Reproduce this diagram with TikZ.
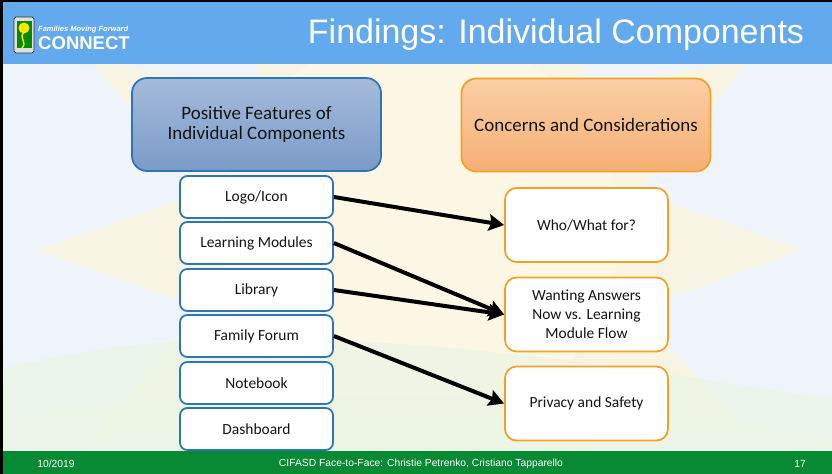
\documentclass[tikz,border=0pt]{standalone}
\usepackage{fontspec}
\setmainfont{Carlito}
\newfontfamily\headfont{Liberation Sans}
\usetikzlibrary{arrows.meta, positioning, shapes.geometric}

\definecolor{headblue}{HTML}{62A9EE}
\definecolor{footgreen}{HTML}{088A35}
\definecolor{boxblue}{HTML}{2E75B6}
\definecolor{boxorange}{HTML}{F4A026}
\definecolor{feattop}{HTML}{A5BBDB}
\definecolor{featbot}{HTML}{7A9BC8}
\definecolor{contop}{HTML}{FACEA6}
\definecolor{conbot}{HTML}{F6B073}
\definecolor{skyblue}{HTML}{EEF4FA}
\definecolor{sunpale}{HTML}{FBF4DE}
\definecolor{glow}{HTML}{FDF8E6}
\definecolor{hillgreen}{HTML}{EBF4E4}
\definecolor{textdark}{HTML}{141414}

\begin{document}
\begin{tikzpicture}[x=0.03cm,y=-0.03cm,
    every node/.style={text=textdark},
    header/.style={draw,line width=1.5pt,rounded corners=0.45cm,
        minimum width=7.47cm,minimum height=2.79cm,align=center,
        font=\fontsize{16.2}{17.5}\selectfont},
    feature/.style={draw=boxblue,fill=white,line width=1.5pt,rounded corners=0.22cm,
        minimum width=4.59cm,minimum height=1.26cm,
        font=\fontsize{13.2}{15}\selectfont},
    concern/.style={draw=boxorange,fill=white,line width=1.5pt,rounded corners=0.35cm,
        minimum width=4.89cm,minimum height=2.22cm,align=center,
        font=\fontsize{13.2}{16.3}\selectfont},
    link/.style={line width=3.4pt,-{Stealth[length=13pt,width=14pt,inset=2pt]}},
    foot/.style={text=white,font=\headfont\fontsize{8.8}{10}\selectfont}
    ]
    \useasboundingbox (0,0) rectangle (832,474);

    % Background
    \fill[skyblue] (0,0) rectangle (832,474);
    \node[star,star points=12,star point ratio=1.7,minimum size=23cm,
        fill=sunpale,fill opacity=.8,inner sep=0pt] (sun) at (420,250) {};
    \fill[glow,opacity=.8] (420,230) circle (200);
    \fill[hillgreen,opacity=.7] (0,474) -- (0,370)
        .. controls (180,320) and (420,330) .. (832,400) -- (832,474) -- cycle;
    \fill[hillgreen,opacity=.5] (0,474) -- (0,420)
        .. controls (250,380) and (600,390) .. (832,440) -- (832,474) -- cycle;

    % Title bar
    \fill[headblue] (0,0) rectangle (832,64);
    \node[anchor=base,text=white,font=\headfont\fontsize{29}{30}\selectfont]
        (title) at (556,43) {Findings: Individual Components};

    % Logo
    \draw[fill=gray!25,draw=black!80,line width=0.6pt,rounded corners=1.5]
        (14,17) rectangle (34,53);
    \fill[green!55!black] (16.5,21) rectangle (31.5,48);
    \fill[yellow!90!orange] (24,28) circle (5.5);
    \draw[yellow!80!orange,line width=1.2pt]
        (22,48) .. controls (28,42) and (18,38) .. (24,32);
    \node[anchor=base west,text=white,inner sep=0pt,
        font=\headfont\bfseries\itshape\fontsize{6.4}{7}\selectfont]
        (tagline) at (38,31) {Families Moving Forward};
    \node[anchor=base west,text=white,inner sep=0pt,
        font=\headfont\bfseries\fontsize{15.8}{16}\selectfont]
        (brand) at (38,49.5) {CONNECT};

    % Footer bar
    \fill[footgreen] (0,451) rectangle (832,474);
    \node[foot] (date) at (56,464) {10/2019};
    \node[foot] (credit) at (421,464) {CIFASD Face-to-Face: Christie Petrenko, Cristiano Tapparello};
    \node[foot] (page) at (800,464) {17};

    % Frame edge
    \fill[black] (0,0) rectangle (832,2);
    \fill[black] (0,0) rectangle (3,474);

    % Column headers
    \node[header,draw=boxblue,top color=feattop,bottom color=featbot]
        (positive) at (256.5,124.5) {Positive Features of\\Individual Components};
    \node[header,draw=boxorange,top color=contop,bottom color=conbot]
        (concerns) at (586,125) {Concerns and Considerations};

    % Components
    \node[feature] (logoicon) at (256.5,197) {Logo/Icon};
    \node[feature] (modules) at (256.5,243) {Learning Modules};
    \node[feature] (library) at (256.5,290) {Library};
    \node[feature] (forum) at (256.5,336) {Family Forum};
    \node[feature] (notebook) at (256.5,383) {Notebook};
    \node[feature] (dashboard) at (256.5,429) {Dashboard};

    % Concerns
    \node[concern] (whofor) at (586.5,225) {Who/What for?};
    \node[concern] (answers) at (586.5,314.5) {Wanting Answers\\Now vs. Learning\\Module Flow};
    \node[concern] (privacy) at (586.5,403.5) {Privacy and Safety};

    % Links
    \draw[link] (logoicon.east) -- (whofor.west);
    \draw[link] (modules.east) -- (answers.west);
    \draw[link] (library.east) -- (answers.west);
    \draw[link] (forum.east) -- (privacy.west);

\end{tikzpicture}
\end{document}
